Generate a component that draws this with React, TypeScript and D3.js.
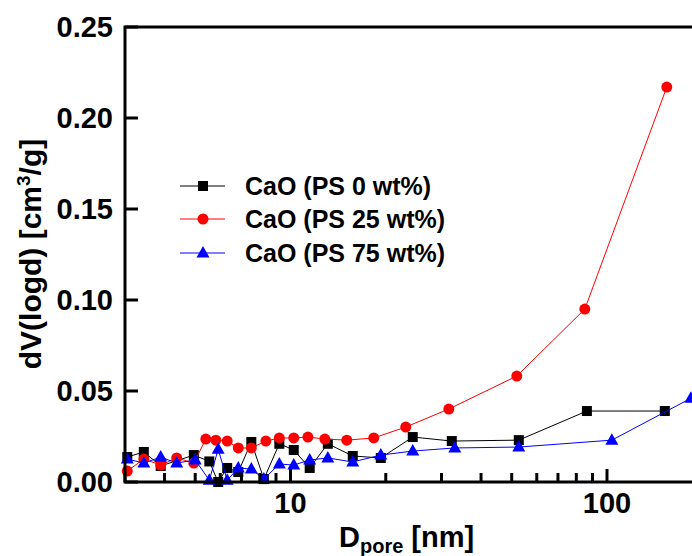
import React, { useRef, useEffect } from 'react';
import * as d3 from 'd3';

// pore size (nm) and dV(logd)
const ps0X = [3.05, 3.44, 3.89, 4.95, 5.54, 5.91, 6.31, 6.84, 7.52, 8.24, 9.22, 10.24, 11.5, 13.12, 15.73, 19.29, 24.34, 32.33, 52.64, 86.4, 152.3];
const ps0Y = [0.0137, 0.0165, 0.0088, 0.0148, 0.0113, 0.0, 0.0077, 0.0055, 0.022, 0.0016, 0.021, 0.0176, 0.0077, 0.021, 0.0143, 0.0132, 0.0247, 0.0225, 0.023, 0.039, 0.039];

const ps25X = [3.05, 3.44, 3.89, 4.37, 4.95, 5.4, 5.81, 6.31, 6.84, 7.52, 8.36, 9.22, 10.24, 11.35, 12.84, 15.06, 18.33, 23.13, 31.64, 51.88, 85.1, 154.5];
const ps25Y = [0.006, 0.0126, 0.0093, 0.0132, 0.0104, 0.0236, 0.023, 0.0225, 0.0187, 0.0187, 0.0225, 0.0242, 0.0242, 0.0247, 0.0236, 0.023, 0.0242, 0.0302, 0.0401, 0.0582, 0.095, 0.217];

const ps75X = [3.05, 3.44, 3.89, 4.37, 5.0, 5.54, 5.91, 6.31, 6.84, 7.52, 8.24, 9.22, 10.24, 11.5, 13.12, 15.73, 19.29, 24.34, 33.04, 52.64, 103.6, 184.1];
const ps75Y = [0.0126, 0.0104, 0.0137, 0.0104, 0.0121, 0.001, 0.018, 0.001, 0.0077, 0.0071, 0.0016, 0.0099, 0.0093, 0.0121, 0.0132, 0.011, 0.0148, 0.017, 0.0187, 0.0192, 0.023, 0.046];

const seriesNames = ['CaO (PS 0 wt%)', 'CaO (PS 25 wt%)', 'CaO (PS 75 wt%)'];
const seriesColors = ['#000000', '#ff0000', '#0000ff'];
const seriesShapes = ['square', 'circle', 'triangle'];

const yTicks = [0, 0.05, 0.1, 0.15, 0.2, 0.25];
const xMajorTicks = [10, 100];

const FONT = '"Liberation Sans", Arial, sans-serif';

const App = () => {
  const svgRef = useRef<SVGSVGElement>(null);

  const width = 692, height = 556;
  const margin = { top: 27, left: 125, bottom: 74 };
  const decade = 316.5;

  const addMarker = (g: any, shape: string, color: string, cx: number, cy: number) => {
    if (shape === 'square') {
      g.append('rect').attr('x', cx - 5).attr('y', cy - 5).attr('width', 10).attr('height', 10).attr('fill', color);
    } else if (shape === 'circle') {
      g.append('circle').attr('cx', cx).attr('cy', cy).attr('r', 5.5).attr('fill', color);
    } else {
      g.append('path')
        .attr('d', `M${cx},${cy - 7}L${cx + 6.5},${cy + 4.5}L${cx - 6.5},${cy + 4.5}Z`)
        .attr('fill', color);
    }
  };

  const draw = (node: SVGSVGElement) => {
    const svg = d3.select(node);
    svg.selectAll('*').remove();

    const x = d3.scaleLog()
      .domain([3, 200])
      .range([margin.left, margin.left + decade * Math.log10(200 / 3)]);
    const y = d3.scaleLinear()
      .domain([0, 0.25])
      .range([height - margin.bottom, margin.top]);

    const x0 = x.range()[0], x1 = x.range()[1];
    const yb = y(0), yt = y(0.25);

    // series
    const data = [
      { xs: ps0X, ys: ps0Y },
      { xs: ps25X, ys: ps25Y },
      { xs: ps75X, ys: ps75Y },
    ];
    data.forEach((s, i) => {
      const pts: [number, number][] = s.xs.map((v, j) => [v, s.ys[j]]);
      const line = d3.line<[number, number]>().x((d) => x(d[0])).y((d) => y(d[1]));
      svg.append('path')
        .attr('d', line(pts))
        .attr('fill', 'none')
        .attr('stroke', seriesColors[i])
        .attr('stroke-width', 1);
      const g = svg.append('g');
      pts.forEach((p) => addMarker(g, seriesShapes[i], seriesColors[i], x(p[0]), y(p[1])));
    });

    // frame
    svg.append('path')
      .attr('d', `M${x1 + 10},${yt}H${x0}V${yb}H${x1 + 10}`)
      .attr('fill', 'none')
      .attr('stroke', '#000')
      .attr('stroke-width', 3)
      .attr('stroke-linecap', 'square');

    // y ticks
    yTicks.forEach((t) => {
      svg.append('line')
        .attr('x1', x0).attr('x2', x0 + 13)
        .attr('y1', y(t)).attr('y2', y(t))
        .attr('stroke', '#000').attr('stroke-width', 3);
      svg.append('text')
        .attr('x', x0 - 12).attr('y', y(t))
        .attr('dy', '0.36em')
        .attr('text-anchor', 'end')
        .attr('font-family', FONT).attr('font-weight', 'bold').attr('font-size', 29)
        .text(d3.format('.2f')(t));
    });

    // x ticks
    x.ticks().forEach((t) => {
      const major = xMajorTicks.includes(t);
      svg.append('line')
        .attr('x1', x(t)).attr('x2', x(t))
        .attr('y1', yb).attr('y2', yb - (major ? 13 : 9))
        .attr('stroke', '#000').attr('stroke-width', 3);
    });
    xMajorTicks.forEach((t) => {
      svg.append('text')
        .attr('x', x(t)).attr('y', yb + 31)
        .attr('text-anchor', 'middle')
        .attr('font-family', FONT).attr('font-weight', 'bold').attr('font-size', 29)
        .text(String(t));
    });

    // axis titles
    const xt = svg.append('text')
      .attr('x', 339).attr('y', 547)
      .attr('font-family', FONT).attr('font-weight', 'bold').attr('font-size', 29);
    xt.append('tspan').text('D');
    xt.append('tspan').attr('font-size', 20).attr('dy', 6).text('pore');
    xt.append('tspan').attr('dy', -6).text(' [nm]');

    const yl = svg.append('text')
      .attr('transform', 'translate(41,254) rotate(-90)')
      .attr('text-anchor', 'middle')
      .attr('font-family', FONT).attr('font-weight', 'bold').attr('font-size', 30);
    yl.append('tspan').text('dV(logd) [cm');
    yl.append('tspan').attr('font-size', 19).attr('dy', -11).text('3');
    yl.append('tspan').attr('dy', 11).text('/g]');

    // legend
    const legendY = [186, 219, 253];
    seriesNames.forEach((name, i) => {
      const g = svg.append('g');
      g.append('line')
        .attr('x1', 180).attr('x2', 225)
        .attr('y1', legendY[i]).attr('y2', legendY[i])
        .attr('stroke', seriesColors[i]).attr('stroke-width', 1);
      addMarker(g, seriesShapes[i], seriesColors[i], 203, legendY[i]);
      g.append('text')
        .attr('x', 245).attr('y', legendY[i])
        .attr('dy', '0.36em')
        .attr('font-family', FONT).attr('font-weight', 'bold').attr('font-size', 25)
        .text(name);
    });
  };

  useEffect(() => {
    if (svgRef.current) draw(svgRef.current);
  }, [svgRef]);

  return (
    <div>
      <svg ref={svgRef} width={width} height={height}
        style={{ position: 'absolute', left: 0, top: 0, background: '#fff' }} />
    </div>
  );
};

export default App;
